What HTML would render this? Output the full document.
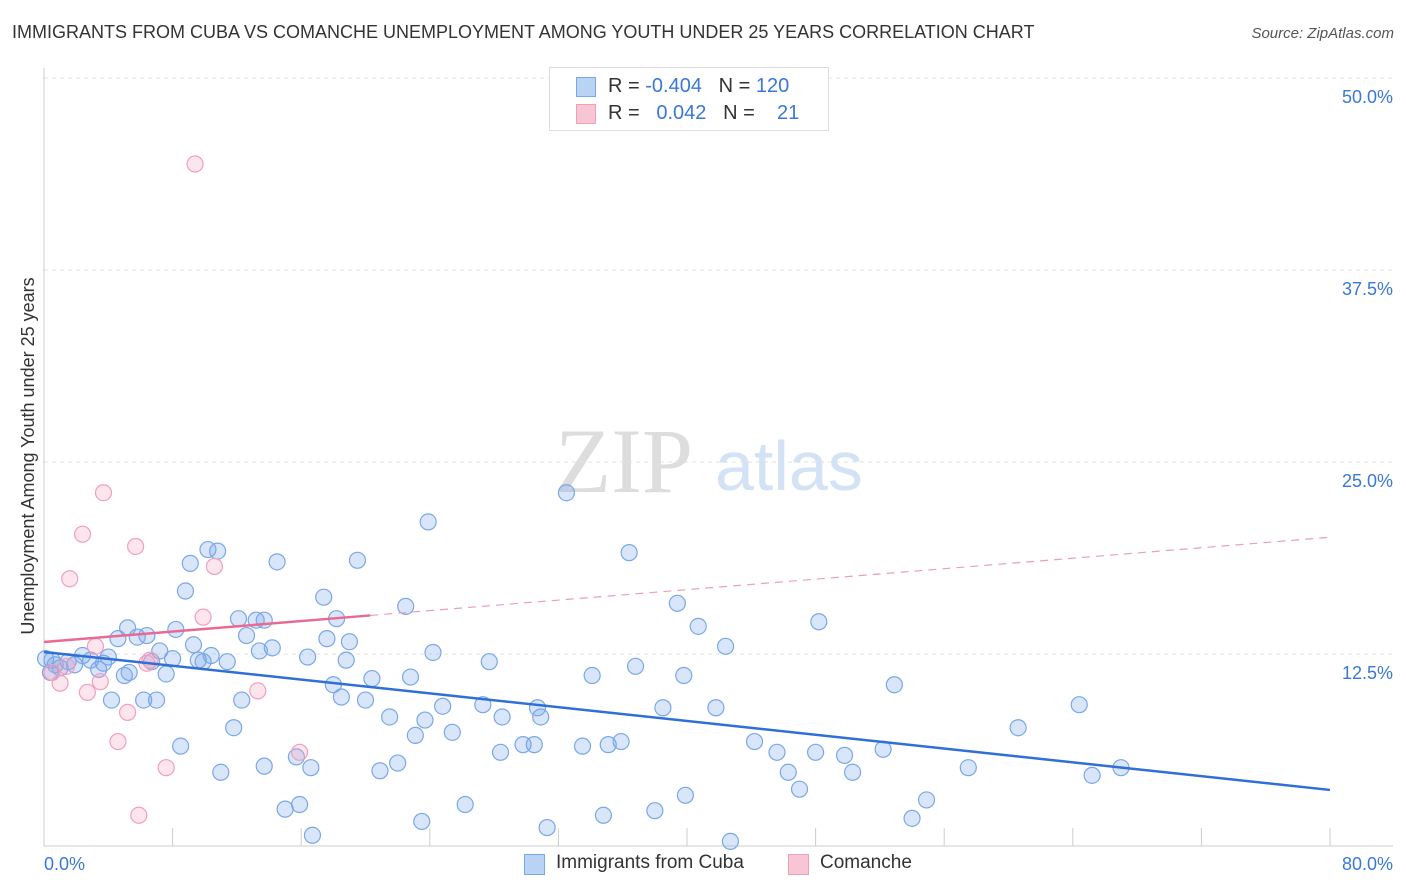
<!DOCTYPE html>
<html><head><meta charset="utf-8"><style>
body{margin:0;background:#fff;font-family:"Liberation Sans",sans-serif;}
#wrap{position:relative;width:1406px;height:892px;overflow:hidden;}
.t{position:absolute;white-space:nowrap;}
</style></head><body>
<div id="wrap">
<div class="t" style="left:12px;top:22px;font-size:18px;color:#333;">IMMIGRANTS FROM CUBA VS COMANCHE UNEMPLOYMENT AMONG YOUTH UNDER 25 YEARS CORRELATION CHART</div>
<div class="t" style="right:12px;top:25px;font-size:15px;color:#555;font-style:italic;">Source: ZipAtlas.com</div>
<svg id="svg" width="1406" height="892" style="position:absolute;left:0;top:0">
<text x="555" y="492" font-family="Liberation Serif" font-size="92" fill="#ddd">ZIP</text>
<text x="715" y="490" font-family="Liberation Sans" font-size="70" fill="#d3e2f5">atlas</text>
<text transform="translate(34,456) rotate(-90)" text-anchor="middle" font-size="18" fill="#333">Unemployment Among Youth under 25 years</text>
<g id="grid"></g><g id="marks"></g>
</svg>
<div style="position:absolute;left:549px;top:67px;width:278px;height:62px;border:1px solid #ddd;background:#fff;font-size:20px;color:#333;">
 <div style="position:absolute;left:26px;top:9px;width:18px;height:18px;background:#b9d3f5;border:1px solid #7aa7e8"></div>
 <div class="t" style="left:58px;top:7px">R = <span style="color:#3a78d8">-0.404</span>&nbsp;&nbsp;&nbsp;N = <span style="color:#3a78d8">120</span></div>
 <div style="position:absolute;left:26px;top:36px;width:18px;height:18px;background:#f8c5d5;border:1px solid #f0a0bb"></div>
 <div class="t" style="left:58px;top:34px">R = &nbsp;&nbsp;<span style="color:#3a78d8">0.042</span>&nbsp;&nbsp;&nbsp;N = &nbsp;&nbsp;&nbsp;<span style="color:#3a78d8">21</span></div>
</div>
<div style="position:absolute;left:524px;top:852px;font-size:19px;color:#333;">
 <div style="position:absolute;left:0;top:2px;width:19px;height:19px;background:#b9d3f5;border:1px solid #7aa7e8"></div>
 <div class="t" style="left:32px;top:0">Immigrants from Cuba</div>
 <div style="position:absolute;left:264px;top:2px;width:19px;height:19px;background:#f8c5d5;border:1px solid #f0a0bb"></div>
 <div class="t" style="left:296px;top:0">Comanche</div>
</div>
</div>
<script>
const yTicks=[12.5,25,37.5,50];
const yTickLabels=["12.5%","25.0%","37.5%","50.0%"];
const xTicks=[0,8,16,24,32,40,48,56,64,72,80];
const cubaX=[0.5,1.0,1.5,1.9,2.4,2.9,3.4,3.7,4.0,4.2,4.6,5.0,5.2,5.3,5.8,6.2,6.4,6.7,7.0,7.2,7.6,8.0,8.2,8.5,8.8,9.1,9.3,9.6,9.9,10.2,10.4,10.8,11.0,11.4,11.8,12.1,12.3,12.6,13.2,13.4,13.7,13.7,14.2,14.5,15.0,15.7,15.9,16.4,16.6,16.7,17.4,17.6,18.0,18.2,18.5,18.8,19.0,19.5,20.0,20.4,20.9,21.5,22.0,22.5,22.8,23.1,23.5,23.7,23.9,24.2,24.8,25.4,26.2,27.3,27.7,28.4,28.5,29.8,30.5,30.7,30.9,31.3,32.5,33.5,34.1,34.8,35.1,35.9,36.4,36.8,38.0,38.5,39.4,39.8,39.9,40.7,41.8,42.4,42.7,44.2,45.6,46.3,47.0,48.0,48.2,49.8,50.3,52.2,52.9,54.0,54.9,57.5,60.6,64.4,65.2,67.0,0.1,0.4,0.7];
const cubaY=[12.1,11.6,12.0,11.8,12.4,12.1,11.5,11.9,12.3,9.5,13.5,11.1,14.2,11.3,13.6,9.5,13.7,12.0,9.5,12.7,11.2,12.2,14.1,6.5,16.6,18.4,13.1,12.1,12.0,19.3,12.4,19.2,4.8,12.0,7.7,14.8,9.5,13.7,14.7,12.7,5.2,14.7,12.9,18.5,2.4,5.8,2.7,12.3,5.1,0.7,16.2,13.5,10.5,14.8,9.7,12.1,13.3,18.6,9.5,10.9,4.9,8.4,5.4,15.6,11.0,7.2,1.6,8.2,21.1,12.6,9.1,7.4,2.7,9.2,12.0,6.1,8.4,6.6,6.6,9.0,8.4,1.2,23.0,6.5,11.1,2.0,6.6,6.8,19.1,11.7,2.3,9.0,15.8,11.1,3.3,14.3,9.0,13.0,0.3,6.8,6.1,4.8,3.7,6.1,14.6,5.9,4.8,6.3,10.5,1.8,3.0,5.1,7.7,9.2,4.6,5.1,12.2,11.3,11.8];
const comX=[0.5,1.0,1.4,1.6,2.4,2.7,3.2,3.5,3.7,4.6,5.2,5.7,5.9,6.4,6.6,7.6,9.4,9.9,10.6,13.3,15.9];
const comY=[11.3,10.6,11.7,17.4,20.3,10.0,13.0,10.7,23.0,6.8,8.7,19.5,2.0,11.9,12.1,5.1,44.4,14.9,18.2,10.1,6.1];
const cubaTrend=[12.63,3.65];
const comTrend=[13.28,20.1];
const comSolidEnd=20.3;

const NS="http://www.w3.org/2000/svg";
const X=v=>44+v/80*1286, Y=v=>846-v/50*768;
const grid=document.getElementById('grid'), marks=document.getElementById('marks');
function mk(tag,attrs,parent){const e=document.createElementNS(NS,tag);for(const k in attrs)e.setAttribute(k,attrs[k]);parent.appendChild(e);return e;}
let e=mk('line',{x1:44,y1:Y(50),x2:1393,y2:Y(50),stroke:'#ddd','stroke-dasharray':'4,4'},grid);


yTicks.forEach((t,i)=>{
 const l=mk('line',{x1:44,y1:Y(t),x2:1393,y2:Y(t),stroke:'#e2e2e2','stroke-dasharray':'4,4'},grid);
 
 
 const tx=mk('text',{x:1393,y:Y(t)+25,'text-anchor':'end','font-size':18,fill:'#3a78d8'},grid);
 tx.textContent=yTickLabels[i];
 
 
});
e=mk('line',{x1:44,y1:846,x2:1393,y2:846,stroke:'#ccc'},grid);


e=mk('line',{x1:44,y1:68,x2:44,y2:846,stroke:'#ccc'},grid);


xTicks.forEach(t=>{
 const l=mk('line',{x1:X(t),y1:828,x2:X(t),y2:846,stroke:'#ccc'},grid);
 
 
});
e=mk('text',{x:44,y:870,'font-size':18,fill:'#3a78d8'},grid);e.textContent='0.0%';


e=mk('text',{x:1393,y:870,'text-anchor':'end','font-size':18,fill:'#3a78d8'},grid);e.textContent='80.0%';



cubaX.forEach((x,i)=>{
 const c=mk('circle',{cx:X(x),cy:Y(cubaY[i]),r:8,fill:'rgba(120,165,235,0.28)',stroke:'#7aa7e8','stroke-width':1.2},marks);
 
 
});
comX.forEach((x,i)=>{
 const c=mk('circle',{cx:X(x),cy:Y(comY[i]),r:8,fill:'rgba(245,160,190,0.28)',stroke:'#f0a0bb','stroke-width':1.2},marks);
 
 
});
const cy=x=>comTrend[0]+(comTrend[1]-comTrend[0])*x/80;
e=mk('line',{x1:X(comSolidEnd),y1:Y(cy(comSolidEnd)),x2:X(80),y2:Y(comTrend[1]),stroke:'#e8a0b8','stroke-width':1.2,'stroke-dasharray':'8,6'},marks);


e=mk('line',{x1:X(0),y1:Y(comTrend[0]),x2:X(comSolidEnd),y2:Y(cy(comSolidEnd)),stroke:'#e86a92','stroke-width':2.5},marks);


e=mk('line',{x1:X(0),y1:Y(cubaTrend[0]),x2:X(80),y2:Y(cubaTrend[1]),stroke:'#2f6fd6','stroke-width':2.5},marks);


</script>
</body></html>
